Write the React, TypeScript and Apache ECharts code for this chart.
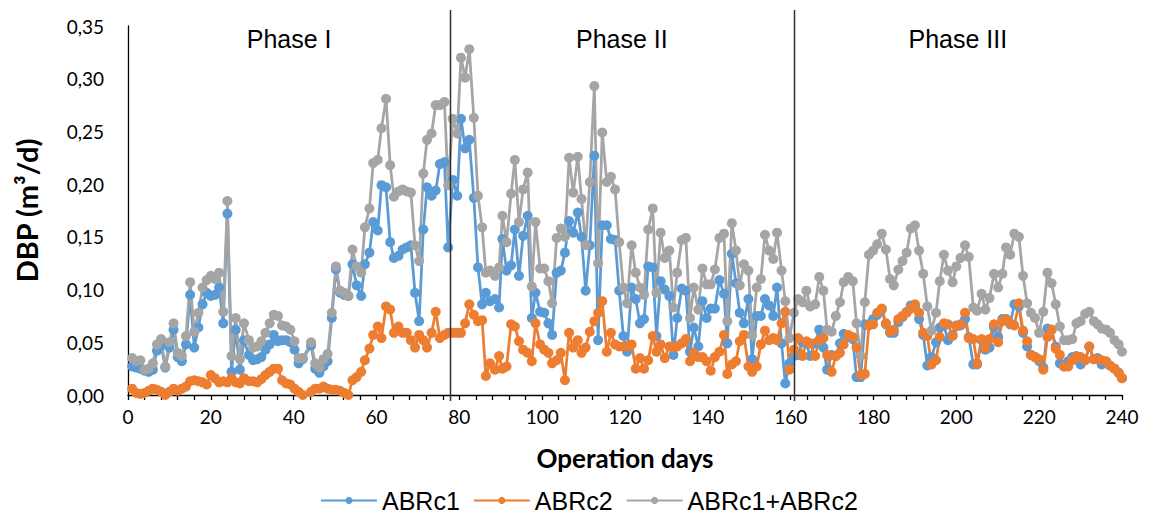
import React, { useEffect, useRef } from "react";
import * as echarts from "echarts";

// Operation day of each sample (shared by the three series)
const days = [
  1, 2, 3, 4, 5, 6, 7, 8, 9, 10, 11, 12, 13, 14, 15, 16, 17, 18, 19, 20, 21, 22, 23, 24, 25, 26, 27, 28,
  29.2, 30.2, 31.2, 32.2, 33.2, 34.2, 35.2, 36.2, 37.2, 38.2, 39.2, 40.2, 41.2, 42.2, 44.2, 45.2, 46.2, 47.2, 48.2, 49.2, 50.2, 51.2, 52.2, 53.2, 54.2, 55.2, 56.3, 57.2, 58.3, 59.2,
  60.3, 61.2, 62.3, 63.3, 64.2, 65.3, 66.3, 67.3, 68.3, 69.3, 70.3, 71.3, 72.2, 73.3, 74.3, 75.3, 76.4, 77.3, 78.4, 79.5, 80.4, 81.4, 82.4, 83.5, 84.5, 85.5, 86.4, 87.4, 88.6, 89.6,
  90.4, 91.4, 92.5, 93.4, 94.4, 95.4, 96.5, 97.5, 98.4, 99.5, 100.5, 101.5, 102.4, 103.5, 104.5, 105.5, 106.5, 107.5, 108.6, 109.5, 110.5, 111.5, 112.6, 113.5, 114.5, 115.6, 116.6, 117.6, 118.6, 119.6,
  120.5, 121.6, 122.6, 123.6, 124.6, 125.6, 126.7, 127.6, 128.6, 129.6, 130.7, 131.7, 132.6, 133.7, 134.7, 135.7, 136.6, 137.7, 138.7, 139.7, 140.7, 141.7, 142.8, 143.9, 144.7, 145.8, 146.8, 147.7, 148.7, 149.8,
  150.7, 151.8, 152.8, 153.8, 154.8, 155.8, 156.7, 157.8, 158.7, 159.7, 160.8, 161.8, 162.9, 163.8, 164.7, 165.9, 166.9, 167.9, 168.8, 169.9, 170.9, 171.9, 172.8, 173.9, 175.0, 175.9, 176.9, 177.9, 178.9, 179.9,
  180.9, 182.0, 183.0, 184.0, 184.9, 186.0, 187.0, 188.0, 189.0, 190.0, 191.0, 192.0, 193.0, 194.0, 195.1, 196.0, 197.0, 198.0, 199.1, 200.0, 201.0, 202.1, 203.0, 204.1, 205.0, 206.1, 207.0, 208.0, 209.1, 210.1,
  211.1, 212.0, 213.0, 214.0, 215.1, 216.1, 217.1, 218.0, 219.0, 220.0, 221.0, 222.0, 223.0, 224.0, 225.0, 226.0, 227.0, 228.0, 229.0, 230.0, 231.1, 232.1, 233.2, 234.1, 235.1, 236.2, 237.1, 238.2, 239.2, 240.0,
];

// Daily biogas production, m³/d
const abrc1 = [
  0.027, 0.026, 0.025, 0.023, 0.022, 0.024, 0.042, 0.047, 0.026, 0.045, 0.062, 0.036, 0.032, 0.048, 0.095, 0.045, 0.064, 0.086, 0.097, 0.094, 0.095, 0.102, 0.068, 0.172, 0.022, 0.062, 0.024, 0.052,
  0.038, 0.033, 0.034, 0.036, 0.043, 0.048, 0.057, 0.051, 0.052, 0.052, 0.050, 0.043, 0.030, 0.034, 0.047, 0.025, 0.021, 0.027, 0.032, 0.073, 0.119, 0.097, 0.095, 0.094, 0.124, 0.104, 0.094, 0.124, 0.135, 0.164,
  0.156, 0.199, 0.197, 0.145, 0.130, 0.132, 0.138, 0.140, 0.142, 0.097, 0.070, 0.157, 0.197, 0.189, 0.194, 0.219, 0.221, 0.140, 0.204, 0.189, 0.262, 0.234, 0.242, 0.187, 0.121, 0.086, 0.097, 0.089, 0.091, 0.083,
  0.148, 0.118, 0.123, 0.157, 0.113, 0.151, 0.170, 0.073, 0.097, 0.079, 0.078, 0.068, 0.057, 0.116, 0.118, 0.135, 0.165, 0.154, 0.173, 0.150, 0.099, 0.142, 0.227, 0.052, 0.161, 0.161, 0.148, 0.147, 0.099, 0.056,
  0.041, 0.102, 0.091, 0.068, 0.072, 0.122, 0.121, 0.056, 0.108, 0.100, 0.094, 0.038, 0.073, 0.101, 0.099, 0.041, 0.064, 0.046, 0.089, 0.073, 0.082, 0.082, 0.109, 0.096, 0.049, 0.134, 0.106, 0.078, 0.068, 0.091,
  0.034, 0.075, 0.075, 0.091, 0.085, 0.075, 0.102, 0.049, 0.011, 0.030, 0.037, 0.038, 0.050, 0.049, 0.037, 0.049, 0.062, 0.045, 0.024, 0.038, 0.037, 0.049, 0.058, 0.055, 0.053, 0.017, 0.017, 0.067, 0.067, 0.072,
  0.076, 0.081, 0.067, 0.059, 0.059, 0.069, 0.074, 0.079, 0.085, 0.084, 0.072, 0.057, 0.028, 0.036, 0.050, 0.064, 0.066, 0.052, 0.057, 0.066, 0.066, 0.072, 0.055, 0.029, 0.029, 0.052, 0.043, 0.045, 0.064, 0.055,
  0.072, 0.072, 0.067, 0.086, 0.084, 0.059, 0.046, 0.038, 0.036, 0.032, 0.026, 0.063, 0.062, 0.046, 0.030, 0.027, 0.032, 0.036, 0.037, 0.029, 0.033, 0.046, 0.034, 0.035, 0.029, 0.031, 0.028, 0.025, 0.021, 0.016,
];

const abrc2 = [
  0.006, 0.002, 0.001, 0.002, 0.004, 0.006, 0.005, 0.003, 0.000, 0.003, 0.006, 0.004, 0.006, 0.008, 0.013, 0.014, 0.013, 0.012, 0.010, 0.019, 0.016, 0.012, 0.013, 0.012, 0.016, 0.012, 0.011, 0.016,
  0.013, 0.013, 0.012, 0.015, 0.019, 0.022, 0.025, 0.025, 0.014, 0.011, 0.010, 0.006, 0.003, 0.000, 0.003, 0.006, 0.006, 0.008, 0.006, 0.005, 0.005, 0.004, 0.002, 0.000, 0.014, 0.017, 0.022, 0.033, 0.044, 0.057,
  0.065, 0.054, 0.084, 0.081, 0.059, 0.065, 0.059, 0.059, 0.052, 0.045, 0.057, 0.052, 0.045, 0.059, 0.079, 0.054, 0.057, 0.059, 0.059, 0.059, 0.059, 0.068, 0.086, 0.076, 0.070, 0.071, 0.018, 0.030, 0.024, 0.037,
  0.025, 0.027, 0.067, 0.065, 0.051, 0.043, 0.040, 0.032, 0.068, 0.048, 0.043, 0.040, 0.030, 0.033, 0.040, 0.014, 0.059, 0.045, 0.052, 0.040, 0.045, 0.060, 0.070, 0.078, 0.089, 0.041, 0.059, 0.048, 0.046, 0.046,
  0.046, 0.048, 0.025, 0.035, 0.025, 0.033, 0.056, 0.041, 0.048, 0.035, 0.046, 0.045, 0.046, 0.049, 0.053, 0.032, 0.040, 0.036, 0.036, 0.032, 0.023, 0.036, 0.041, 0.057, 0.020, 0.029, 0.032, 0.051, 0.057, 0.027,
  0.022, 0.027, 0.048, 0.061, 0.052, 0.054, 0.052, 0.068, 0.079, 0.024, 0.043, 0.054, 0.037, 0.051, 0.049, 0.037, 0.052, 0.054, 0.038, 0.022, 0.037, 0.040, 0.048, 0.057, 0.055, 0.045, 0.019, 0.020, 0.066, 0.067,
  0.078, 0.082, 0.068, 0.060, 0.062, 0.072, 0.075, 0.078, 0.082, 0.086, 0.078, 0.059, 0.056, 0.029, 0.033, 0.055, 0.068, 0.067, 0.056, 0.065, 0.067, 0.078, 0.054, 0.053, 0.030, 0.053, 0.045, 0.053, 0.067, 0.050,
  0.070, 0.072, 0.068, 0.066, 0.087, 0.061, 0.051, 0.038, 0.036, 0.034, 0.024, 0.055, 0.062, 0.044, 0.038, 0.027, 0.027, 0.033, 0.036, 0.036, 0.033, 0.046, 0.034, 0.034, 0.033, 0.032, 0.028, 0.025, 0.021, 0.016,
];

const combined = [
  0.035, 0.032, 0.033, 0.024, 0.025, 0.030, 0.048, 0.053, 0.027, 0.050, 0.068, 0.040, 0.037, 0.056, 0.107, 0.060, 0.078, 0.102, 0.109, 0.113, 0.110, 0.116, 0.079, 0.184, 0.037, 0.073, 0.034, 0.068,
  0.052, 0.045, 0.046, 0.051, 0.059, 0.068, 0.076, 0.075, 0.066, 0.065, 0.062, 0.051, 0.035, 0.035, 0.050, 0.030, 0.026, 0.034, 0.039, 0.078, 0.122, 0.099, 0.097, 0.094, 0.138, 0.122, 0.116, 0.159, 0.177, 0.220,
  0.223, 0.253, 0.281, 0.218, 0.188, 0.193, 0.195, 0.193, 0.192, 0.142, 0.127, 0.210, 0.242, 0.248, 0.275, 0.275, 0.278, 0.199, 0.262, 0.248, 0.320, 0.301, 0.328, 0.263, 0.189, 0.159, 0.116, 0.118, 0.113, 0.121,
  0.170, 0.145, 0.191, 0.223, 0.164, 0.195, 0.211, 0.103, 0.164, 0.120, 0.120, 0.108, 0.087, 0.149, 0.158, 0.150, 0.225, 0.192, 0.226, 0.186, 0.142, 0.202, 0.293, 0.125, 0.249, 0.202, 0.207, 0.195, 0.145, 0.102,
  0.087, 0.142, 0.116, 0.102, 0.095, 0.157, 0.177, 0.097, 0.154, 0.130, 0.137, 0.083, 0.116, 0.147, 0.149, 0.073, 0.102, 0.081, 0.120, 0.105, 0.105, 0.119, 0.149, 0.153, 0.070, 0.163, 0.137, 0.104, 0.124, 0.118,
  0.057, 0.102, 0.110, 0.152, 0.137, 0.129, 0.154, 0.118, 0.089, 0.054, 0.078, 0.091, 0.088, 0.099, 0.084, 0.086, 0.112, 0.099, 0.062, 0.060, 0.075, 0.088, 0.107, 0.112, 0.108, 0.068, 0.037, 0.088, 0.133, 0.137,
  0.143, 0.153, 0.138, 0.110, 0.104, 0.119, 0.127, 0.135, 0.158, 0.161, 0.137, 0.115, 0.084, 0.061, 0.078, 0.108, 0.133, 0.118, 0.107, 0.122, 0.130, 0.142, 0.131, 0.083, 0.080, 0.096, 0.081, 0.092, 0.115, 0.102,
  0.115, 0.140, 0.133, 0.153, 0.150, 0.113, 0.087, 0.078, 0.073, 0.059, 0.079, 0.116, 0.106, 0.086, 0.065, 0.052, 0.052, 0.053, 0.068, 0.070, 0.077, 0.079, 0.070, 0.067, 0.063, 0.062, 0.059, 0.052, 0.048, 0.041,
];

const seriesNames = ["ABRc1", "ABRc2", "ABRc1+ABRc2"];
const seriesColors = ["#5B9BD5", "#ED7D31", "#A5A5A5"];

// Phase boundaries (operation days) and phase titles
const phaseBounds = [77.8, 160.7];
const phaseNames = ["Phase I", "Phase II", "Phase III"];

const X_MIN = 0;
const X_MAX = 240;
const X_STEP = 20;
const Y_MIN = 0;
const Y_MAX = 0.35;
const Y_STEP = 0.05;

const W = 1153;
const H = 518;

const tickFont = "Lato, 'Open Sans', sans-serif";
const textFont = "'Liberation Sans', Arial, sans-serif";

export default function App() {
  const ref = useRef<HTMLDivElement>(null);

  useEffect(() => {
    if (!ref.current) return;
    const chart = echarts.init(ref.current, null, { renderer: "svg", width: W, height: H });

    const values = [abrc1, abrc2, combined];
    const series = values.map((vals, k) => ({
      name: seriesNames[k],
      type: "line",
      data: days.map((d, i) => [d, vals[i]]),
      symbol: "circle",
      symbolSize: 10,
      showSymbol: true,
      lineStyle: { width: 2.75, color: seriesColors[k] },
      itemStyle: { color: seriesColors[k] },
      emphasis: { disabled: true },
    }));

    chart.setOption({
      animation: false,
      backgroundColor: "#ffffff",
      textStyle: { fontFamily: textFont },
      grid: { left: 128, right: 31, top: 26, bottom: 123, containLabel: false },
      legend: {
        data: seriesNames,
        left: 315,
        top: 483,
        padding: 5,
        itemWidth: 56,
        itemHeight: 9,
        itemGap: 13,
        textStyle: { fontSize: 25, fontFamily: textFont, color: "#000" },
      },
      xAxis: {
        type: "value",
        min: X_MIN,
        max: X_MAX,
        interval: X_STEP,
        name: "Operation days",
        nameLocation: "middle",
        nameGap: 50,
        nameTextStyle: { fontSize: 26, fontWeight: "bold", color: "#000", fontFamily: tickFont },
        axisLine: { show: true, lineStyle: { color: "#000", width: 1.3 } },
        axisTick: { show: true, length: 5, lineStyle: { color: "#000", width: 1.3 } },
        minorTick: { show: true, splitNumber: 5, length: 5, lineStyle: { color: "#000", width: 1.3 } },
        splitLine: { show: false },
        axisLabel: { margin: 12, fontSize: 19, color: "#000", fontFamily: tickFont },
      },
      yAxis: {
        type: "value",
        min: Y_MIN,
        max: Y_MAX,
        interval: Y_STEP,
        name: "DBP (m³/d)",
        nameLocation: "middle",
        nameRotate: 90,
        nameGap: 87,
        nameTextStyle: { fontSize: 29, fontWeight: "bold", color: "#000", fontFamily: tickFont },
        axisLine: { show: true, lineStyle: { color: "#000", width: 1.3 } },
        axisTick: { show: false },
        splitLine: { show: false },
        axisLabel: {
          margin: 24,
          fontSize: 19,
          color: "#000",
          fontFamily: tickFont,
          formatter: (v: number) => v.toFixed(2).replace(".", ","),
        },
      },
      series,
    });

    // Phase separators and titles, placed through the axis scales
    const px = (d: number) => chart.convertToPixel({ xAxisIndex: 0 }, d) as number;
    const py = (v: number) => chart.convertToPixel({ yAxisIndex: 0 }, v) as number;
    const top = py(Y_MAX);
    const bottom = py(Y_MIN);
    const edges = [X_MIN, ...phaseBounds, X_MAX].map(px);

    const graphic: any[] = [];
    phaseBounds.forEach((b) => {
      const x = Math.round(px(b)) + 0.5;
      graphic.push({
        type: "line",
        shape: { x1: x, y1: top - 16, x2: x, y2: bottom + 6 },
        style: { stroke: "#303030", lineWidth: 1.5 },
        z: 10,
      });
    });
    phaseNames.forEach((name, i) => {
      graphic.push({
        type: "text",
        x: (edges[i] + edges[i + 1]) / 2,
        y: top + 13,
        style: {
          text: name,
          fontSize: 25,
          fontFamily: textFont,
          fill: "#000",
          align: "center",
          verticalAlign: "middle",
        },
        z: 10,
      });
    });
    chart.setOption({ graphic });

    return () => chart.dispose();
  }, []);

  return (
    <div
      ref={ref}
      style={{ position: "fixed", left: 0, top: 0, width: W, height: H, background: "#fff" }}
    />
  );
}
